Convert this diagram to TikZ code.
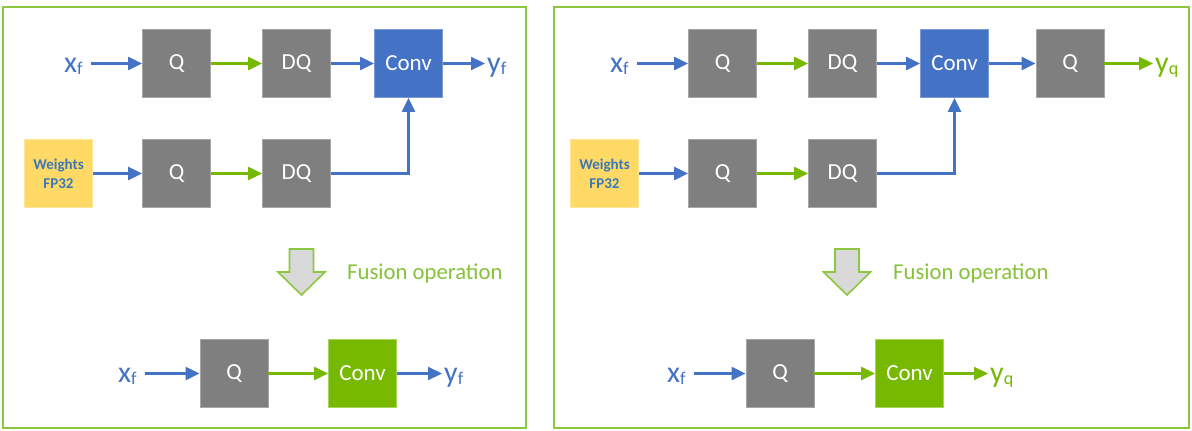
\documentclass[tikz,border=0pt]{standalone}
\usepackage{fontspec}
\setmainfont{Carlito}
\usetikzlibrary{arrows.meta}
\definecolor{boxgray}{HTML}{7F7F7F}
\definecolor{boxgrayb}{HTML}{A6A6A6}
\definecolor{convblue}{HTML}{4472C4}
\definecolor{convblueb}{HTML}{7C9BD6}
\definecolor{convgreen}{HTML}{76B900}
\definecolor{convgreenb}{HTML}{A6D45C}
\definecolor{wyellow}{HTML}{FFD966}
\definecolor{wyellowb}{HTML}{FFE699}
\definecolor{wtext}{HTML}{3C79B4}
\definecolor{ablue}{HTML}{4472C4}
\definecolor{agreen}{HTML}{76B900}
\definecolor{framegreen}{HTML}{8DC63F}
\definecolor{fusiontext}{HTML}{86C23A}
\definecolor{fusionfill}{HTML}{D9D9D9}
\newcommand{\mysub}[2]{{\fontsize{30}{30}\selectfont #1}\raisebox{-0.22em}{\fontsize{18}{20}\selectfont #2}}
\tikzset{
  box/.style={minimum width=68pt, minimum height=68pt, inner sep=0pt, text=white,
    font=\fontsize{23}{24}\selectfont, line width=0.8pt},
  gbox/.style={box, fill=boxgray, draw=boxgrayb},
  bbox/.style={box, fill=convblue, draw=convblueb},
  vbox/.style={box, fill=convgreen, draw=convgreenb},
  wbox/.style={box, fill=wyellow, draw=wyellowb, text=wtext, align=center,
    font=\bfseries\fontsize{15}{19}\selectfont},
  inlab/.style={inner xsep=8pt, inner ysep=0pt, anchor=base west, text=ablue},
  outlab/.style={inner xsep=2pt, inner ysep=0pt, anchor=base west},
  barrow/.style={draw=ablue, line width=2.2pt, -{Triangle[length=14pt,width=13pt]}},
  garrow/.style={draw=agreen, line width=2.2pt, -{Triangle[length=14pt,width=13pt]}},
  panel/.style={draw=framegreen, line width=2pt},
  fusion/.style={draw=framegreen, fill=fusionfill, line width=1.6pt, line join=miter},
  fusionlab/.style={anchor=west, inner sep=0pt, text=fusiontext, font=\fontsize{22.7}{24}\selectfont},
}
\begin{document}
\begin{tikzpicture}[x=1pt, y=-1pt]
\useasboundingbox (0,0) rectangle (1192,431);
\fill[white] (0,0) rectangle (1192,431);

% ================= LEFT PANEL =================
\draw[panel] (3,7) rectangle (526,428);

\node[gbox] (lq1) at (176.5,63.5) {Q};
\node[gbox] (ldq1) at (296.5,63.5) {DQ};
\node[bbox] (lconv1) at (408.5,63.5) {Conv};
\node[inlab] (lx1) at (56,72) {\mysub{x}{f}};
\node[outlab, text=ablue] (ly1) at (485,72) {\mysub{y}{f}};

\node[wbox] (lw) at (58.5,173.5) {Weights\\FP32};
\node[gbox] (lq2) at (176.5,173.5) {Q};
\node[gbox] (ldq2) at (296.5,173.5) {DQ};

\draw[barrow] (lx1.east |- lq1.west) -- (lq1.west);
\draw[garrow] (lq1.east) -- (ldq1.west);
\draw[barrow] (ldq1.east) -- (lconv1.west);
\draw[barrow] (lconv1.east) -- (ly1.west |- lconv1.east);
\draw[barrow] (lw.east) -- (lq2.west);
\draw[garrow] (lq2.east) -- (ldq2.west);
\draw[barrow] (ldq2.east) -| (lconv1.south);

\coordinate (lfa) at (301.5,249);
\draw[fusion, shift={(lfa)}] (-12,0) -- (12,0) -- (12,23) -- (23.5,23) -- (0,46) -- (-23.5,23) -- (-12,23) -- cycle;
\node[fusionlab] (lfl) at (347,273) {Fusion operation};

\node[gbox] (lq3) at (234,373.5) {Q};
\node[vbox] (lconv3) at (362.5,373.5) {Conv};
\node[inlab] (lx3) at (110,382) {\mysub{x}{f}};
\node[outlab, text=ablue] (ly3) at (442,382) {\mysub{y}{f}};
\draw[barrow] (lx3.east |- lq3.west) -- (lq3.west);
\draw[garrow] (lq3.east) -- (lconv3.west);
\draw[barrow] (lconv3.east) -- (ly3.west |- lconv3.east);

% ================= RIGHT PANEL =================
\draw[panel] (554,7) rectangle (1189,428);

\node[gbox] (rq1) at (722.5,63.5) {Q};
\node[gbox] (rdq1) at (842.5,63.5) {DQ};
\node[bbox] (rconv1) at (954.5,63.5) {Conv};
\node[gbox] (rq4) at (1070,63.5) {Q};
\node[inlab] (rx1) at (602,72) {\mysub{x}{f}};
\node[outlab, text=agreen] (ry1) at (1153,72) {\mysub{y}{q}};

\node[wbox] (rw) at (604.5,173.5) {Weights\\FP32};
\node[gbox] (rq2) at (722.5,173.5) {Q};
\node[gbox] (rdq2) at (842.5,173.5) {DQ};

\draw[barrow] (rx1.east |- rq1.west) -- (rq1.west);
\draw[garrow] (rq1.east) -- (rdq1.west);
\draw[barrow] (rdq1.east) -- (rconv1.west);
\draw[barrow] (rconv1.east) -- (rq4.west);
\draw[garrow] (rq4.east) -- (ry1.west |- rq4.east);
\draw[barrow] (rw.east) -- (rq2.west);
\draw[garrow] (rq2.east) -- (rdq2.west);
\draw[barrow] (rdq2.east) -| (rconv1.south);

\coordinate (rfa) at (847,249);
\draw[fusion, shift={(rfa)}] (-12,0) -- (12,0) -- (12,23) -- (23.5,23) -- (0,46) -- (-23.5,23) -- (-12,23) -- cycle;
\node[fusionlab] (rfl) at (893,273) {Fusion operation};

\node[gbox] (rq3) at (780,373.5) {Q};
\node[vbox] (rconv3) at (909.5,373.5) {Conv};
\node[inlab] (rx3) at (659,382) {\mysub{x}{f}};
\node[outlab, text=agreen] (ry3) at (988,382) {\mysub{y}{q}};
\draw[barrow] (rx3.east |- rq3.west) -- (rq3.west);
\draw[garrow] (rq3.east) -- (rconv3.west);
\draw[garrow] (rconv3.east) -- (ry3.west |- rconv3.east);
\end{tikzpicture}
\end{document}
